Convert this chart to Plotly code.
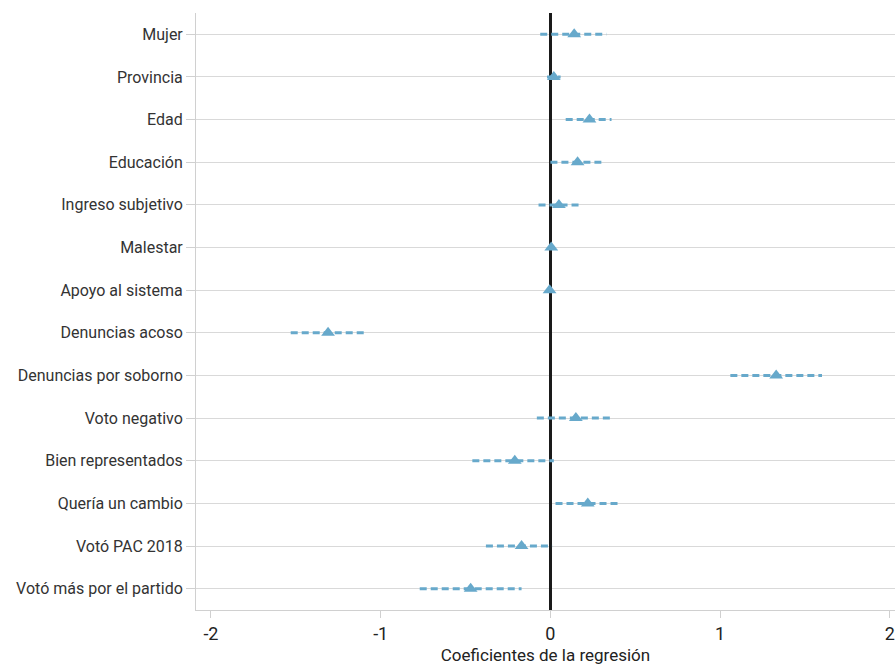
import plotly.graph_objects as go

categories = ["Mujer", "Provincia", "Edad", "Educación", "Ingreso subjetivo", "Malestar",
              "Apoyo al sistema", "Denuncias acoso", "Denuncias por soborno", "Voto negativo",
              "Bien representados", "Quería un cambio", "Votó PAC 2018", "Votó más por el partido"]
coef = [0.14, 0.02, 0.23, 0.16, 0.05, 0.005, -0.005, -1.31, 1.33, 0.15, -0.21, 0.22, -0.17, -0.47]
ci_low = [-0.06, -0.02, 0.09, 0.0, -0.07, -0.005, -0.015, -1.53, 1.06, -0.08, -0.46, 0.03, -0.38, -0.77]
ci_high = [0.33, 0.06, 0.36, 0.30, 0.18, 0.015, 0.005, -1.08, 1.60, 0.36, 0.02, 0.41, 0.01, -0.17]
x_ticks = [-2, -1, 0, 1, 2]

color = "#67a9cb"
font_family = "Roboto, sans-serif"

xs, ys = [], []
for c, lo, hi in zip(categories, ci_low, ci_high):
    xs += [lo, hi, None]
    ys += [c, c, None]

fig = go.Figure()
fig.add_trace(go.Scatter(x=xs, y=ys, mode="lines",
                         line=dict(color=color, width=3, dash="7px,4px"),
                         hoverinfo="skip", showlegend=False))
fig.add_trace(go.Scatter(x=coef, y=categories, mode="markers",
                         marker=dict(symbol="triangle-up", size=12, color=color),
                         showlegend=False))

fig.update_layout(
    width=895, height=665,
    margin=dict(l=196, r=0, t=13, b=55),
    paper_bgcolor="white", plot_bgcolor="white",
    font=dict(family=font_family, color="#333333"),
)
fig.update_xaxes(
    range=[-2.088, 2.03], tickvals=x_ticks, ticktext=[str(v) for v in x_ticks],
    automargin=False, ticklabeloverflow="allow",
    showgrid=False, zeroline=True, zerolinecolor="#1a1a1a", zerolinewidth=2.5,
    showline=True, linecolor="#d0d0d0", linewidth=1,
    ticks="outside", ticklen=7, tickcolor="#d0d0d0",
    tickfont=dict(size=18, color="#222222"),
    title=dict(text="Coeficientes de la regresión", font=dict(size=17, color="#222222")),
)
fig.update_yaxes(
    categoryorder="array", categoryarray=categories,
    range=[len(categories) - 0.5, -0.5],
    automargin=False,
    showgrid=True, gridcolor="#d9d9d9", gridwidth=1,
    showline=True, linecolor="#d0d0d0", linewidth=1,
    ticks="outside", ticklen=9, tickcolor="#d0d0d0",
    tickfont=dict(size=16, color="#333333"),
)

fig.write_html("out.html", config={"displayModeBar": False},
               post_script="document.body.style.margin='0';document.body.style.overflow='hidden';")
